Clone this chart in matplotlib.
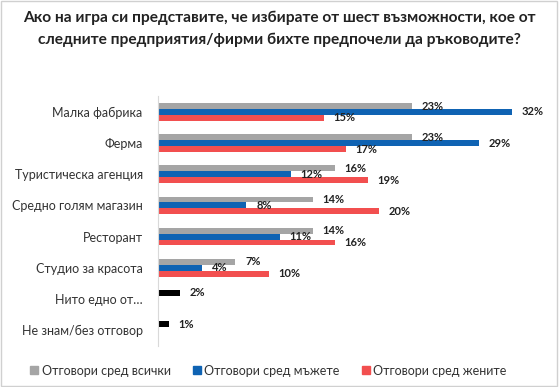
import numpy as np
import matplotlib.pyplot as plt
from matplotlib.patches import Rectangle
from matplotlib.lines import Line2D

plt.rcParams['font.family'] = ['Lato', 'DejaVu Sans']

# Data
categories = ['Малка фабрика', 'Ферма', 'Туристическа агенция', 'Средно голям магазин',
              'Ресторант', 'Студио за красота', 'Нито едно от…', 'Не знам/без отговор']
all_resp = [23, 23, 16, 14, 14, 7, 2, 1]
men_resp = [32, 29, 12, 8, 11, 4, np.nan, np.nan]
women_resp = [15, 17, 19, 20, 16, 10, np.nan, np.nan]
series_names = ['Отговори сред всички', 'Отговори сред мъжете', 'Отговори сред жените']

c_gray = '#a5a5a5'
c_blue = '#0f63b3'
c_red = '#f24f4f'

fig = plt.figure(figsize=(5.59, 3.87), dpi=100)
fig.patches.append(Rectangle((0.002, 0.002), 0.995, 0.995, transform=fig.transFigure,
                             fill=False, edgecolor='#d0d0d0', linewidth=1))

ax = fig.add_axes([0.2826, 0.107, 0.712, 0.644])
y = np.arange(len(categories))
h = 0.19

# the two last rows are drawn in black in the original
gray_colors = [c_gray] * 6 + ['black'] * 2
b1 = ax.barh(y - h, all_resp, height=h, color=gray_colors)
b2 = ax.barh(y, men_resp, height=h, color=c_blue)
b3 = ax.barh(y + h, women_resp, height=h, color=c_red)

for bars, vals in [(b1, all_resp), (b2, men_resp), (b3, women_resp)]:
    labels = ['' if np.isnan(v) else f'{v:.0f}%' for v in np.array(vals, dtype=float)]
    ax.bar_label(bars, labels=labels, padding=7, fontsize=8, fontweight='bold', color='#222222')

ax.set_ylim(len(categories) - 0.5, -0.5)
ax.set_xlim(0, 36)
ax.set_yticks(y)
ax.set_yticklabels(categories, fontsize=9, color='#333333')
ax.tick_params(axis='y', length=0, pad=11)
ax.set_xticks([])
for s in ['top', 'right', 'bottom']:
    ax.spines[s].set_visible(False)
ax.spines['left'].set_color('#d9d9d9')

fig.text(0.5, 0.955, 'Ако на игра си представите, че избирате от шест възможности, кое от',
         ha='center', va='center', fontsize=11.2, fontweight='bold', color='#222222')
fig.text(0.5, 0.897, 'следните предприятия/фирми бихте предпочели да ръководите?',
         ha='center', va='center', fontsize=11.2, fontweight='bold', color='#222222')

handles = [Line2D([], [], marker='s', linestyle='', color=c, markersize=6)
           for c in [c_gray, c_blue, c_red]]
fig.legend(handles, series_names, loc='center', bbox_to_anchor=(0.477, 0.042), ncol=3,
           frameon=False, fontsize=9, handletextpad=0.0, columnspacing=1.5,
           handlelength=1.2, labelcolor='#333333')

fig.savefig('out.png', dpi=100)
